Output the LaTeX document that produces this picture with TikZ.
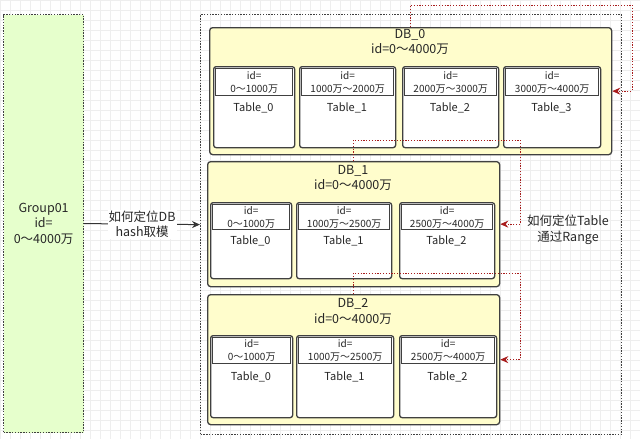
\documentclass[tikz,border=0pt]{standalone}
\usepackage{fontspec}
\setmainfont{Noto Sans CJK SC}
\usetikzlibrary{arrows.meta,positioning}
\definecolor{dbyellow}{RGB}{255,253,204}
\definecolor{groupgreen}{RGB}{230,255,204}
\definecolor{boxgray}{RGB}{64,64,64}
\definecolor{linkred}{RGB}{168,28,28}
\definecolor{gridgray}{RGB}{238,238,238}

\begin{document}
\begin{tikzpicture}[x=1pt,y=-1pt,
    every node/.style={text=black!85},
    groupbox/.style={draw=boxgray, fill=groupgreen, line width=1.2pt, dash pattern=on 1.4pt off 1.4pt, anchor=north west, inner sep=0pt},
    outerbox/.style={draw=boxgray, line width=1.2pt, dash pattern=on 1.4pt off 1.4pt, anchor=north west, inner sep=0pt},
    dbbox/.style={draw=boxgray, fill=dbyellow, rounded corners=3pt, line width=1.3pt, anchor=north west, inner sep=0pt},
    tablebox/.style={draw=boxgray, fill=white, rounded corners=2.5pt, line width=1.3pt, anchor=north west, inner sep=0pt},
    headbox/.style={draw=boxgray, fill=white, line width=1.3pt, anchor=north west, inner sep=0pt, align=center, font=\fontsize{10}{13}\selectfont},
    bigtext/.style={align=center, font=\fontsize{12.5}{15.5}\selectfont},
    tablelabel/.style={font=\fontsize{11}{13}\selectfont},
    hasharrow/.style={draw=black!80, line width=1pt, -{Stealth[length=8pt,width=7pt]}},
    link/.style={draw=linkred, line width=1pt, dash pattern=on 1.2pt off 1.6pt, -{Stealth[length=8pt,width=7pt]}}]
    \useasboundingbox (0,0) rectangle (640,439);
    \draw[gridgray, step=10pt] (0,0) grid (640,439);

    % group and cluster
    \node[groupbox, minimum width=80pt, minimum height=418pt] (group) at (3,14) {};
    \node[bigtext] (group-text) at (group.center) {Group01\\id=\\0～4000万};
    \node[outerbox, minimum width=421pt, minimum height=420pt] (cluster) at (200,14) {};
    \draw[hasharrow] (group.east) -- (cluster.west)
        node[midway, fill=white, bigtext, inner sep=1pt] (hashlabel) {如何定位DB\\hash取模};

    % DB_0
    \node[dbbox, minimum width=402pt, minimum height=127pt] (db0) at (209,27) {};
    \node[bigtext] (db0-title) at (410,42) {DB\_0\\id=0～4000万};
    \foreach \k/\xa/\xb/\range in {0/213/294/0～1000万, 1/299/395/1000万～2000万,
                                    2/402/498/2000万～3000万, 3/503/600/3000万～4000万} {
        \node[tablebox, minimum width={(\xb-\xa)*1pt}, minimum height=81pt] (db0-t\k) at (\xa,66) {};
        \node[headbox, minimum width={(\xb-\xa-4)*1pt}, minimum height=27pt] (db0-h\k) at (\xa+2,68) {id=\\\range};
        \node[tablelabel] (db0-l\k) at ({(\xa+\xb)/2},108) {Table\_\k};
    }

    % DB_1
    \node[dbbox, minimum width=292pt, minimum height=125pt] (db1) at (207,161) {};
    \node[bigtext] (db1-title) at (353,178) {DB\_1\\id=0～4000万};
    \foreach \k/\xa/\xb/\range in {0/210/291/0～1000万, 1/296/391/1000万～2500万, 2/399/494/2500万～4000万} {
        \node[tablebox, minimum width={(\xb-\xa)*1pt}, minimum height=76pt] (db1-t\k) at (\xa,202) {};
        \node[headbox, minimum width={(\xb-\xa-4)*1pt}, minimum height=25pt] (db1-h\k) at (\xa+2,204) {id=\\\range};
        \node[tablelabel] (db1-l\k) at ({(\xa+\xb)/2},241) {Table\_\k};
    }

    % DB_2
    \node[dbbox, minimum width=292pt, minimum height=130pt] (db2) at (207,294) {};
    \node[bigtext] (db2-title) at (353,311.5) {DB\_2\\id=0～4000万};
    \foreach \k/\xa/\xb/\range in {0/210/292/0～1000万, 1/296/393/1000万～2500万, 2/399/496/2500万～4000万} {
        \node[tablebox, minimum width={(\xb-\xa)*1pt}, minimum height=82pt] (db2-t\k) at (\xa,335) {};
        \node[headbox, minimum width={(\xb-\xa-4)*1pt}, minimum height=26pt] (db2-h\k) at (\xa+2,337) {id=\\\range};
        \node[tablelabel] (db2-l\k) at ({(\xa+\xb)/2},377) {Table\_\k};
    }

    % range links
    \coordinate (loop0) at (632,5);
    \coordinate (loop1) at (520,140);
    \coordinate (loop2) at (520,273);
    \draw[link] (db0.north) |- (loop0) |- (db0.east);
    \draw[link] (db1.north) |- (loop1) |- (db1.east);
    \draw[link] (db2.north) |- (loop2) |- (db2.east);
    \node[bigtext] (rangelabel) at (568,230) {如何定位Table\\通过Range};
\end{tikzpicture}
\end{document}
